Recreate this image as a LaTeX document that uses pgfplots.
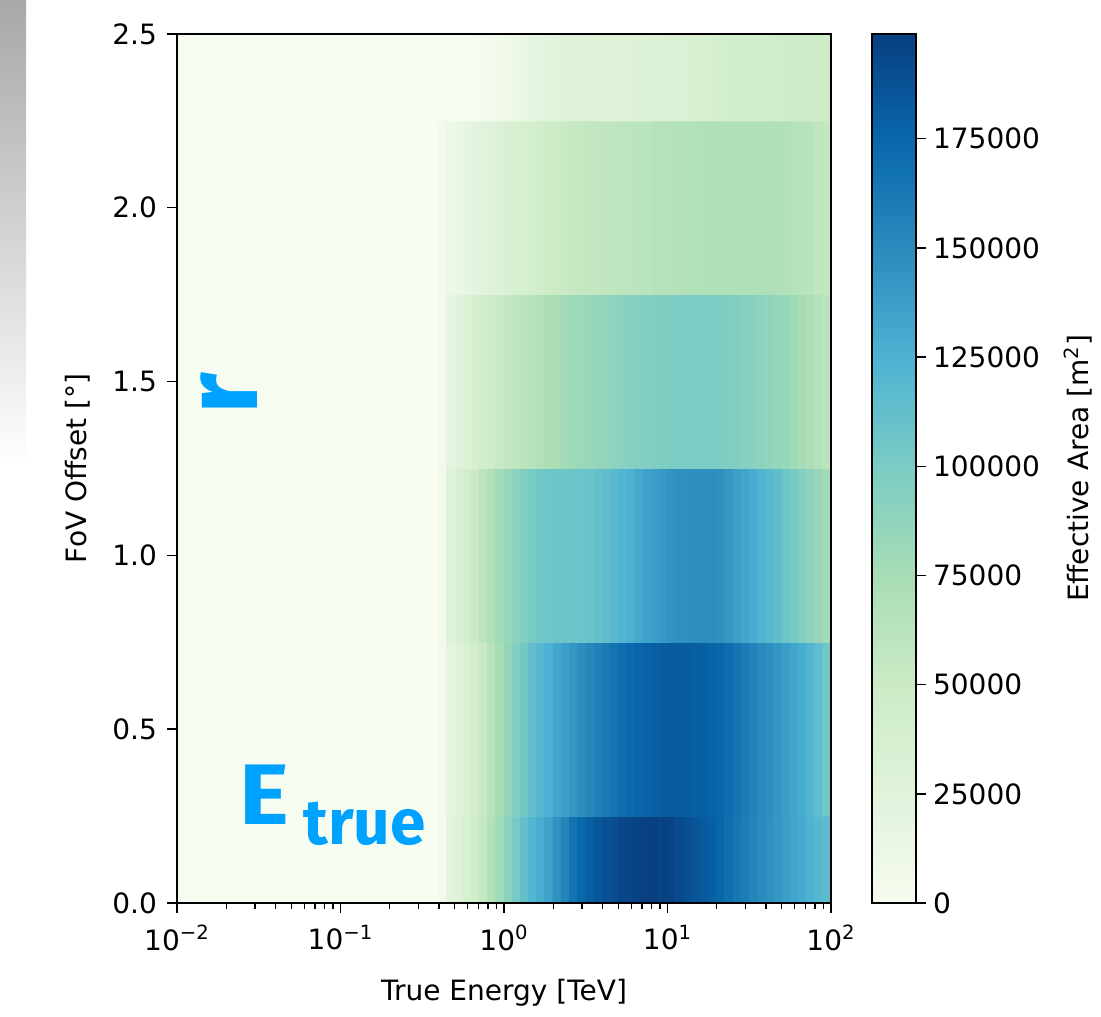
\documentclass[border=0pt]{standalone}
\usepackage{fontspec}
\setmainfont{DejaVu Sans}
\newfontfamily\blfont{Fira Sans}
\usepackage{pgfplots}
\pgfplotsset{compat=1.18}
\definecolor{lab}{RGB}{0,162,255}
\pgfplotsset{
  gnbu/.style={colormap={GnBu}{rgb255=(247,252,240) rgb255=(224,243,219) rgb255=(204,235,197) rgb255=(168,221,181) rgb255=(123,204,196) rgb255=(78,179,211) rgb255=(43,140,190) rgb255=(8,104,172) rgb255=(8,64,129)},
    point meta min=0, point meta max=199000},
  common/.style={
    scale only axis, height=434.5pt,
    /pgf/number format/assume math mode=true,
    tick align=outside,
    major tick length=5pt, minor tick length=3pt,
    every tick/.style={black, line width=0.7pt},
    axis line style={line width=0.9pt},
    font=\fontsize{14}{16.8}\selectfont,
    axis on top, gnbu},
}
\begin{document}
\begin{tikzpicture}[x=1pt,y=1pt]
\useasboundingbox (0,0) rectangle (550.5,508);
\shade[top color={rgb,255:red,168;green,168;blue,168}, bottom color=white] (0,274.5) rectangle (13,508);
\begin{axis}[common,
  at={(88.5pt,56.5pt)}, anchor=south west, width=327pt,
  xmode=log, xmin=0.01, xmax=100, ymin=0, ymax=2.5,
  xtick={0.01,0.1,1,10,100},
  xticklabels={10\textsuperscript{−2},10\textsuperscript{−1},10\textsuperscript{0},10\textsuperscript{1},10\textsuperscript{2}},
  xticklabel style={yshift=-2.5pt},
  ytick={0,0.5,1,1.5,2,2.5},
  yticklabel style={xshift=-1.5pt,/pgf/number format/fixed,/pgf/number format/fixed zerofill,/pgf/number format/precision=1},
  tick pos=left,
  xlabel={True Energy [TeV]}, ylabel={FoV Offset [°]},
  xlabel style={at={(axis description cs:0.5,-0.1036)}, anchor=center},
  ylabel style={at={(axis description cs:-0.1514,0.5)}, anchor=center},
]
% region below the lowest energy bin (zero effective area)
\addplot[matrix plot*, mesh/cols=2, point meta=\thisrow{c}] table[row sep=\\, x expr=10^\thisrow{lx}, y=y] {
lx y c\\
-1.6 0 0\\ -0.8 0 0\\
-1.6 2.5 0\\ -0.8 2.5 0\\
};
\addplot[matrix plot*, mesh/cols=48, point meta=\thisrow{c}] table[row sep=\\, x expr=10^\thisrow{lx}, y=y] {
lx y c\\
-0.375 0 6000\\ -0.325 0 22000\\ -0.275 0 27000\\ -0.225 0 35000\\ -0.175 0 45000\\ -0.125 0 55000\\ -0.075 0 68000\\ -0.025 0 78000\\
0.025 0 90000\\ 0.075 0 102000\\ 0.125 0 112000\\ 0.175 0 122000\\ 0.225 0 128000\\ 0.275 0 136000\\ 0.325 0 145000\\ 0.375 0 155000\\
0.425 0 166000\\ 0.475 0 174000\\ 0.525 0 180000\\ 0.575 0 184000\\ 0.625 0 188000\\ 0.675 0 191000\\ 0.725 0 194000\\ 0.775 0 196000\\
0.825 0 198000\\ 0.875 0 199000\\ 0.925 0 199000\\ 0.975 0 198000\\ 1.025 0 196000\\ 1.075 0 193000\\ 1.125 0 190000\\ 1.175 0 186000\\
1.225 0 183000\\ 1.275 0 179000\\ 1.325 0 175000\\ 1.375 0 170000\\ 1.425 0 164000\\ 1.475 0 159000\\ 1.525 0 154000\\ 1.575 0 150000\\
1.625 0 146000\\ 1.675 0 142000\\ 1.725 0 138000\\ 1.775 0 134000\\ 1.825 0 130000\\ 1.875 0 125000\\ 1.925 0 120000\\ 1.975 0 116000\\
-0.375 0.5 6000\\ -0.325 0.5 20000\\ -0.275 0.5 26000\\ -0.225 0.5 33000\\ -0.175 0.5 42000\\ -0.125 0.5 52000\\ -0.075 0.5 62000\\ -0.025 0.5 75000\\
0.025 0.5 86000\\ 0.075 0.5 95000\\ 0.125 0.5 104000\\ 0.175 0.5 112000\\ 0.225 0.5 120000\\ 0.275 0.5 126000\\ 0.325 0.5 132000\\ 0.375 0.5 137000\\
0.425 0.5 143000\\ 0.475 0.5 148000\\ 0.525 0.5 153000\\ 0.575 0.5 158000\\ 0.625 0.5 162000\\ 0.675 0.5 166000\\ 0.725 0.5 170000\\ 0.775 0.5 173000\\
0.825 0.5 176000\\ 0.875 0.5 178000\\ 0.925 0.5 180000\\ 0.975 0.5 181000\\ 1.025 0.5 182000\\ 1.075 0.5 182000\\ 1.125 0.5 181000\\ 1.175 0.5 180000\\
1.225 0.5 179000\\ 1.275 0.5 177000\\ 1.325 0.5 175000\\ 1.375 0.5 171000\\ 1.425 0.5 166000\\ 1.475 0.5 161000\\ 1.525 0.5 156000\\ 1.575 0.5 151000\\
1.625 0.5 147000\\ 1.675 0.5 143000\\ 1.725 0.5 138000\\ 1.775 0.5 133000\\ 1.825 0.5 128000\\ 1.875 0.5 122000\\ 1.925 0.5 114000\\ 1.975 0.5 105000\\
-0.375 1 6000\\ -0.325 1 28000\\ -0.275 1 35000\\ -0.225 1 44000\\ -0.175 1 52000\\ -0.125 1 62000\\ -0.075 1 70000\\ -0.025 1 78000\\
0.025 1 84000\\ 0.075 1 90000\\ 0.125 1 96000\\ 0.175 1 101000\\ 0.225 1 104000\\ 0.275 1 106000\\ 0.325 1 107000\\ 0.375 1 107000\\
0.425 1 108000\\ 0.475 1 108000\\ 0.525 1 109000\\ 0.575 1 111000\\ 0.625 1 114000\\ 0.675 1 118000\\ 0.725 1 122000\\ 0.775 1 126000\\
0.825 1 131000\\ 0.875 1 135000\\ 0.925 1 138000\\ 0.975 1 141000\\ 1.025 1 144000\\ 1.075 1 146000\\ 1.125 1 147000\\ 1.175 1 148000\\
1.225 1 148000\\ 1.275 1 148000\\ 1.325 1 146000\\ 1.375 1 142000\\ 1.425 1 137000\\ 1.475 1 133000\\ 1.525 1 129000\\ 1.575 1 124000\\
1.625 1 119000\\ 1.675 1 114000\\ 1.725 1 107000\\ 1.775 1 101000\\ 1.825 1 95000\\ 1.875 1 89000\\ 1.925 1 83000\\ 1.975 1 78000\\
-0.375 1.5 5000\\ -0.325 1.5 18000\\ -0.275 1.5 24000\\ -0.225 1.5 32000\\ -0.175 1.5 38000\\ -0.125 1.5 44000\\ -0.075 1.5 49000\\ -0.025 1.5 53000\\
0.025 1.5 56000\\ 0.075 1.5 58000\\ 0.125 1.5 61000\\ 0.175 1.5 64000\\ 0.225 1.5 68000\\ 0.275 1.5 71000\\ 0.325 1.5 74000\\ 0.375 1.5 77000\\
0.425 1.5 80000\\ 0.475 1.5 82000\\ 0.525 1.5 84000\\ 0.575 1.5 85000\\ 0.625 1.5 87000\\ 0.675 1.5 89000\\ 0.725 1.5 91000\\ 0.775 1.5 93000\\
0.825 1.5 95000\\ 0.875 1.5 96000\\ 0.925 1.5 97000\\ 0.975 1.5 98000\\ 1.025 1.5 99000\\ 1.075 1.5 100000\\ 1.125 1.5 100000\\ 1.175 1.5 100000\\
1.225 1.5 100000\\ 1.275 1.5 99000\\ 1.325 1.5 98000\\ 1.375 1.5 97000\\ 1.425 1.5 96000\\ 1.475 1.5 94000\\ 1.525 1.5 92000\\ 1.575 1.5 90000\\
1.625 1.5 88000\\ 1.675 1.5 86000\\ 1.725 1.5 83000\\ 1.775 1.5 80000\\ 1.825 1.5 76000\\ 1.875 1.5 72000\\ 1.925 1.5 67000\\ 1.975 1.5 62000\\
-0.375 2 6000\\ -0.325 2 10000\\ -0.275 2 13000\\ -0.225 2 17000\\ -0.175 2 21000\\ -0.125 2 24000\\ -0.075 2 27000\\ -0.025 2 30000\\
0.025 2 33000\\ 0.075 2 35000\\ 0.125 2 38000\\ 0.175 2 41000\\ 0.225 2 44000\\ 0.275 2 47000\\ 0.325 2 50000\\ 0.375 2 52000\\
0.425 2 54000\\ 0.475 2 55000\\ 0.525 2 56000\\ 0.575 2 57000\\ 0.625 2 58000\\ 0.675 2 59000\\ 0.725 2 60000\\ 0.775 2 61000\\
0.825 2 62000\\ 0.875 2 63000\\ 0.925 2 64000\\ 0.975 2 65000\\ 1.025 2 66000\\ 1.075 2 67000\\ 1.125 2 68000\\ 1.175 2 68000\\
1.225 2 69000\\ 1.275 2 70000\\ 1.325 2 70000\\ 1.375 2 70000\\ 1.425 2 70000\\ 1.475 2 70000\\ 1.525 2 70000\\ 1.575 2 70000\\
1.625 2 70000\\ 1.675 2 69000\\ 1.725 2 68000\\ 1.775 2 66000\\ 1.825 2 64000\\ 1.875 2 62000\\ 1.925 2 59000\\ 1.975 2 56000\\
-0.375 2.5 0\\ -0.325 2.5 0\\ -0.275 2.5 0\\ -0.225 2.5 500\\ -0.175 2.5 1000\\ -0.125 2.5 2000\\ -0.075 2.5 4000\\ -0.025 2.5 6000\\
0.025 2.5 9000\\ 0.075 2.5 12000\\ 0.125 2.5 15000\\ 0.175 2.5 18000\\ 0.225 2.5 21000\\ 0.275 2.5 23000\\ 0.325 2.5 25000\\ 0.375 2.5 26000\\
0.425 2.5 27000\\ 0.475 2.5 28000\\ 0.525 2.5 28000\\ 0.575 2.5 28000\\ 0.625 2.5 29000\\ 0.675 2.5 29000\\ 0.725 2.5 29000\\ 0.775 2.5 29000\\
0.825 2.5 30000\\ 0.875 2.5 30000\\ 0.925 2.5 31000\\ 0.975 2.5 31000\\ 1.025 2.5 32000\\ 1.075 2.5 32000\\ 1.125 2.5 33000\\ 1.175 2.5 34000\\
1.225 2.5 35000\\ 1.275 2.5 37000\\ 1.325 2.5 39000\\ 1.375 2.5 41000\\ 1.425 2.5 42000\\ 1.475 2.5 43000\\ 1.525 2.5 44000\\ 1.575 2.5 44000\\
1.625 2.5 45000\\ 1.675 2.5 45000\\ 1.725 2.5 46000\\ 1.775 2.5 46000\\ 1.825 2.5 46000\\ 1.875 2.5 46000\\ 1.925 2.5 46000\\ 1.975 2.5 46000\\
};
\end{axis}
% colour bar
\begin{axis}[common,
  at={(436pt,56.5pt)}, anchor=south west, width=22pt,
  xmin=0, xmax=1, ymin=0, ymax=199000,
  xtick=\empty,
  ytick={0,25000,50000,75000,100000,125000,150000,175000},
  scaled y ticks=false,
  yticklabel style={/pgf/number format/fixed,/pgf/number format/set thousands separator={}},
  ytick pos=right, yticklabel pos=right,
  ylabel={Effective Area [m\textsuperscript{2}]},
  ylabel style={at={(axis description cs:4.68,0.5)}, anchor=center, rotate=0},
]
\addplot[surf, shader=interp, mesh/rows=9, point meta=explicit] coordinates {
(0,0) [0] (1,0) [0]
(0,24875) [24875] (1,24875) [24875]
(0,49750) [49750] (1,49750) [49750]
(0,74625) [74625] (1,74625) [74625]
(0,99500) [99500] (1,99500) [99500]
(0,124375) [124375] (1,124375) [124375]
(0,149250) [149250] (1,149250) [149250]
(0,174125) [174125] (1,174125) [174125]
(0,199000) [199000] (1,199000) [199000]
};
\end{axis}
\node[anchor=base west, inner sep=0, text=lab, xscale=1.1, transform shape, font=\blfont\bfseries\fontsize{43}{43}\selectfont] at (119.5,95.5) {E};
\node[anchor=base west, inner sep=0, text=lab, font=\blfont\bfseries\fontsize{32}{32}\selectfont] at (151.5,85.5) {true};
\node[anchor=base west, inner sep=0, rotate=90, text=lab, font=\blfont\bfseries\fontsize{52}{52}\selectfont] at (128.5,300.5) {r};
\end{tikzpicture}
\end{document}
